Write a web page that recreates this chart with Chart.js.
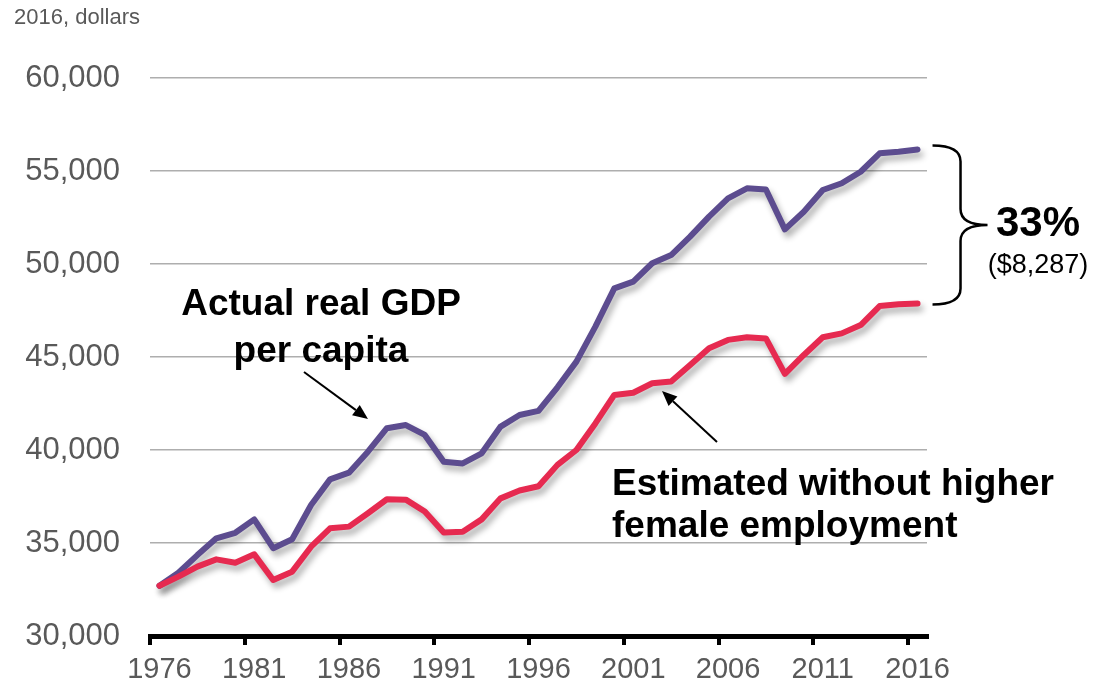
<!DOCTYPE html>
<html>
<head>
<meta charset="utf-8">
<script src="https://cdn.jsdelivr.net/npm/chart.js@4.4.1/dist/chart.umd.min.js"></script>
<style>
  html, body { margin: 0; padding: 0; background: #fff; }
  #wrap { width: 1119px; height: 688px; }
</style>
</head>
<body>
<div id="wrap"><canvas id="gdpChart"></canvas></div>
<script>
// Real GDP per capita, 2016 dollars
const years = [
  "1976","1977","1978","1979","1980","1981","1982","1983","1984","1985",
  "1986","1987","1988","1989","1990","1991","1992","1993","1994","1995",
  "1996","1997","1998","1999","2000","2001","2002","2003","2004","2005",
  "2006","2007","2008","2009","2010","2011","2012","2013","2014","2015","2016"
];
const actualGdp = [
  32700, 33400, 34350, 35250, 35550, 36270, 34720, 35200, 37040, 38420,
  38780, 39910, 41170, 41340, 40810, 39370, 39280, 39820, 41260, 41880,
  42100, 43370, 44750, 46630, 48690, 49050, 50040, 50480, 51470, 52550,
  53530, 54070, 54010, 51860, 52810, 53980, 54340, 54960, 55950, 56040, 56160
];
const withoutFemale = [
  32700, 33190, 33730, 34120, 33940, 34390, 33010, 33460, 34800, 35790,
  35880, 36600, 37350, 37330, 36690, 35560, 35610, 36270, 37400, 37820,
  38050, 39200, 40000, 41430, 42960, 43080, 43590, 43680, 44570, 45470,
  45920, 46060, 46000, 44090, 45110, 46060, 46270, 46720, 47740, 47830, 47870
];
const yTicks = [30000, 35000, 40000, 45000, 50000, 55000, 60000];
const unitNote = "2016, dollars";
const gapPct = "33%";
const gapDollars = "($8,287)";

const FONT = "'Liberation Sans', Arial, sans-serif";

// soft drop shadow under the lines
const shadowPlugin = {
  id: "lineShadow",
  beforeDatasetDraw(chart) {
    const c = chart.ctx;
    c.save();
    c.shadowColor = "rgba(0,0,0,0.32)";
    c.shadowBlur = 6;
    c.shadowOffsetX = 3;
    c.shadowOffsetY = 5;
  },
  afterDatasetDraw(chart) {
    chart.ctx.restore();
  }
};

function arrow(c, x1, y1, x2, y2) {
  const ang = Math.atan2(y2 - y1, x2 - x1);
  const head = 15, wing = 6.5;
  const bx = x2 - head * Math.cos(ang), by = y2 - head * Math.sin(ang);
  c.beginPath();
  c.moveTo(x1, y1);
  c.lineTo(bx, by);
  c.strokeStyle = "#000";
  c.lineWidth = 2;
  c.stroke();
  c.beginPath();
  c.moveTo(x2, y2);
  c.lineTo(bx + wing * Math.sin(ang), by - wing * Math.cos(ang));
  c.lineTo(bx - wing * Math.sin(ang), by + wing * Math.cos(ang));
  c.closePath();
  c.fillStyle = "#000";
  c.fill();
}

const notesPlugin = {
  id: "notes",
  afterDraw(chart) {
    const c = chart.ctx;
    const xs = chart.scales.x, ys = chart.scales.y;
    c.save();

    // unit note
    c.fillStyle = "#595959";
    c.font = "22px " + FONT;
    c.textAlign = "left";
    c.textBaseline = "middle";
    c.fillText(unitNote, 14, 18);

    // series labels
    c.fillStyle = "#000";
    c.font = "bold 37px " + FONT;
    c.textAlign = "center";
    c.fillText("Actual real GDP", 321, 305);
    c.fillText("per capita", 321, 352);
    c.textAlign = "left";
    c.fillText("Estimated without higher", 612, 485);
    c.fillText("female employment", 612, 527);

    arrow(c, 304, 372, 368, 419);
    arrow(c, 717, 442, 662, 391);

    // brace spanning the 2016 gap
    const last = years.length - 1;
    const top = ys.getPixelForValue(actualGdp[last]) - 4;
    const bot = ys.getPixelForValue(withoutFemale[last]) + 1;
    const mid = (top + bot) / 2;
    const x0 = xs.getPixelForValue(last) + 15;
    const xv = x0 + 28, xt = x0 + 55, r = 16;
    c.beginPath();
    c.moveTo(x0, top);
    c.quadraticCurveTo(xv, top, xv, top + r);
    c.lineTo(xv, mid - r);
    c.quadraticCurveTo(xv, mid, xt, mid);
    c.quadraticCurveTo(xv, mid, xv, mid + r);
    c.lineTo(xv, bot - r);
    c.quadraticCurveTo(xv, bot, x0, bot);
    c.strokeStyle = "#000";
    c.lineWidth = 2.5;
    c.stroke();

    c.textAlign = "center";
    c.font = "bold 42px " + FONT;
    c.fillText(gapPct, 1038, mid - 1);
    c.font = "27px " + FONT;
    c.fillText(gapDollars, 1038, mid + 41);

    c.restore();
  }
};

new Chart(document.getElementById("gdpChart"), {
  type: "line",
  data: {
    labels: years,
    datasets: [
      {
        label: "Estimated without higher female employment",
        data: withoutFemale,
        borderColor: "#e62a50",
        borderWidth: 6,
        pointRadius: 0,
        tension: 0,
        borderJoinStyle: "round",
        borderCapStyle: "round"
      },
      {
        label: "Actual real GDP per capita",
        data: actualGdp,
        borderColor: "#5c4c8f",
        borderWidth: 6,
        pointRadius: 0,
        tension: 0,
        borderJoinStyle: "round",
        borderCapStyle: "round"
      }
    ]
  },
  options: {
    responsive: true,
    maintainAspectRatio: false,
    animation: false,
    layout: { padding: { top: 78, right: 192, bottom: 0, left: 0 } },
    plugins: {
      legend: { display: false },
      tooltip: { enabled: false }
    },
    scales: {
      x: {
        offset: true,
        afterFit(scale) { scale.height = 52; },
        border: { display: true, color: "#000", width: 5 },
        grid: {
          offset: true,
          drawOnChartArea: false,
          drawTicks: true,
          tickLength: 9,
          lineWidth: 4,
          color: ctx => (ctx.index % 5 === 0 ? "#000" : "rgba(0,0,0,0)")
        },
        ticks: {
          autoSkip: false,
          maxRotation: 0,
          padding: 8,
          color: "#595959",
          font: { family: FONT, size: 29 },
          callback: (v, i) => (i % 5 === 0 ? years[i] : "")
        }
      },
      y: {
        min: yTicks[0],
        max: yTicks[yTicks.length - 1],
        afterFit(scale) { scale.width = 150; },
        afterBuildTicks(scale) { scale.ticks = yTicks.map(v => ({ value: v })); },
        border: { display: false },
        grid: { color: "#aeaeae", lineWidth: 1.5, drawTicks: false },
        ticks: {
          padding: 30,
          color: "#595959",
          font: { family: FONT, size: 31 },
          callback: v => v.toLocaleString("en-US")
        }
      }
    }
  },
  plugins: [shadowPlugin, notesPlugin]
});
</script>
</body>
</html>
